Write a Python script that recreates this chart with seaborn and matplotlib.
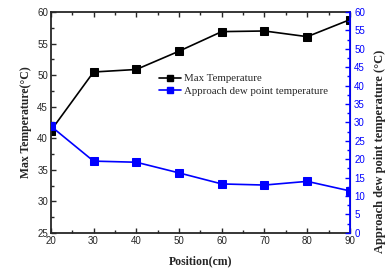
import pandas as pd
import matplotlib.pyplot as plt
import seaborn as sns
from matplotlib.ticker import MultipleLocator
from matplotlib.lines import Line2D

position = [20, 30, 40, 50, 60, 70, 80, 90]
max_temp = [41.2, 50.5, 50.9, 53.8, 56.9, 57.0, 56.1, 58.8]
dew_temp = [29.0, 19.5, 19.2, 16.3, 13.3, 13.0, 14.0, 11.4]

df = pd.DataFrame({'Position': position, 'Max': max_temp, 'Dew': dew_temp})

sns.set_style('ticks')
plt.rcParams['font.family'] = ['Liberation Sans', 'DejaVu Sans']

fig = plt.figure(figsize=(3.85, 2.68), dpi=100)
ax = fig.add_axes([0.132, 0.131, 0.777, 0.824])
ax2 = ax.twinx()

sns.lineplot(data=df, x='Position', y='Max', ax=ax, color='black', marker='s',
             markersize=5.3, markeredgecolor='black', linewidth=1.2)
sns.lineplot(data=df, x='Position', y='Dew', ax=ax2, color='blue', marker='s',
             markersize=5.3, markeredgecolor='blue', linewidth=1.2)

ax.set_xlim(20, 90)
ax.set_ylim(25, 60)
ax2.set_ylim(0, 60)
ax.xaxis.set_major_locator(MultipleLocator(10))
ax.xaxis.set_minor_locator(MultipleLocator(5))
ax.yaxis.set_major_locator(MultipleLocator(5))
ax.yaxis.set_minor_locator(MultipleLocator(2.5))
ax2.yaxis.set_major_locator(MultipleLocator(5))
ax2.yaxis.set_minor_locator(MultipleLocator(2.5))

ax.tick_params(which='both', direction='in', top=True, labelsize=7, pad=2)
ax.tick_params(which='major', length=3.5, width=1)
ax.tick_params(which='minor', length=2, width=1)
ax.tick_params(axis='y', which='both', right=False)
ax2.tick_params(which='both', direction='in', colors='blue', labelsize=7, pad=3)
ax2.tick_params(which='major', length=3.5, width=1)
ax2.tick_params(which='minor', length=2, width=1)

for s in ['left', 'bottom', 'top']:
    ax.spines[s].set_linewidth(1.3)
ax2.spines['right'].set_color('blue')
ax2.spines['right'].set_linewidth(1.3)
ax2.spines['left'].set_visible(False)
ax2.spines['top'].set_visible(False)
ax2.spines['bottom'].set_visible(False)

lab_font = dict(family='Liberation Serif', weight='bold', size=8.5)
ax.set_xlabel('Position(cm)', fontdict=lab_font, labelpad=7)
ax.set_ylabel('Max Temperature(\u00b0C)', fontdict=lab_font, labelpad=4)
ax2.set_ylabel('Approach dew point temperature (\u00b0C)',
               fontdict=dict(lab_font, size=9))
ax2.yaxis.set_label_coords(1.08, 0.37)

handles = [
    Line2D([], [], color='black', marker='s', markersize=5, linewidth=1.2),
    Line2D([], [], color='blue', marker='s', markersize=5, linewidth=1.2),
]
ax2.legend(handles, ['Max Temperature', 'Approach dew point temperature'],
           loc='upper left', bbox_to_anchor=(0.345, 0.745), frameon=False,
           prop={'family': 'Liberation Serif', 'size': 7.8},
           handlelength=2.0, handletextpad=0.3, labelspacing=0.25, borderpad=0)

fig.savefig('out.png', dpi=100)
